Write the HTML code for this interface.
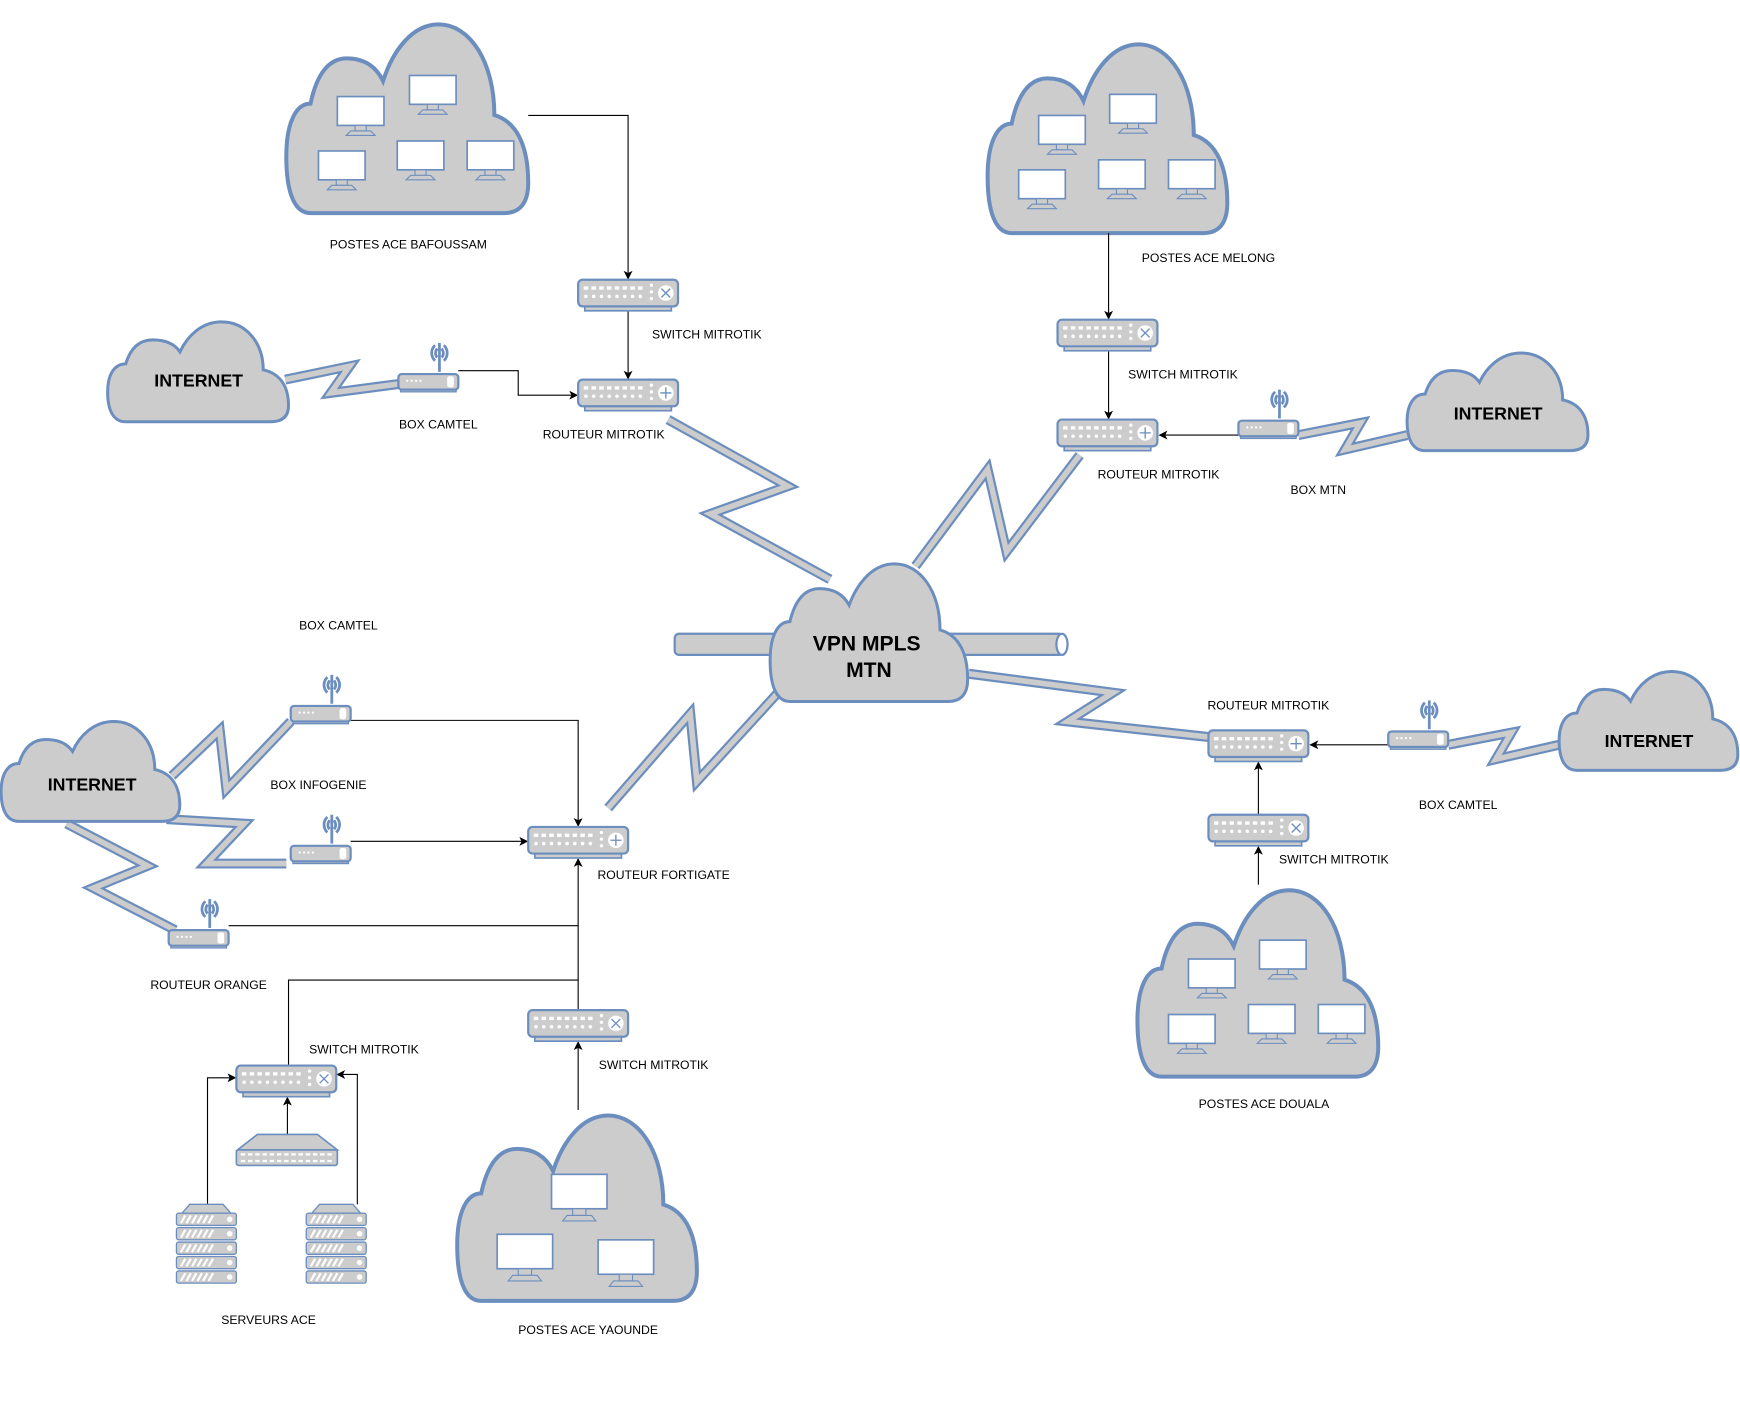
<!DOCTYPE html>
<html><head><meta charset="utf-8">
<style>
html,body{margin:0;padding:0;background:#fff;}
svg{display:block;}
text{font-family:"Liberation Sans",Arial,sans-serif;fill:#000;}
.lbl{font-size:11px;}
.big{font-size:16px;font-weight:bold;}
</style></head>
<body>
<svg width="1740" height="1413" viewBox="0 0 1568 1273" preserveAspectRatio="none" xmlns="http://www.w3.org/2000/svg">
<defs>
  <g id="mon">
    <rect x="0" y="0" width="42" height="26" fill="#fff" stroke="#6c8ebf" stroke-width="1.5"/>
    <rect x="16" y="26" width="10" height="5" fill="#ccc" stroke="#6c8ebf" stroke-width="1"/>
    <path d="M8 35 L12 31 H30 L34 35 Z" fill="#ccc" stroke="#6c8ebf" stroke-width="1"/>
  </g>
  <g id="monb">
    <rect x="0" y="0" width="50" height="31" fill="#fff" stroke="#6c8ebf" stroke-width="1.5"/>
    <rect x="19" y="31" width="12" height="6" fill="#ccc" stroke="#6c8ebf" stroke-width="1"/>
    <path d="M10 42 L14 37 H36 L40 42 Z" fill="#ccc" stroke="#6c8ebf" stroke-width="1"/>
  </g>
  <g id="dev">
    <rect x="6" y="23" width="78" height="5" fill="#ccc" stroke="#6c8ebf" stroke-width="1.5"/>
    <rect x="0" y="0" width="90" height="24" rx="4" fill="#ccc" stroke="#6c8ebf" stroke-width="2"/>
    <g fill="#fff">
      <rect x="5" y="6" width="4" height="3"/><rect x="12" y="6" width="4" height="3"/><rect x="19" y="6" width="4" height="3"/><rect x="26" y="6" width="4" height="3"/><rect x="33" y="6" width="4" height="3"/><rect x="40" y="6" width="4" height="3"/><rect x="47" y="6" width="4" height="3"/><rect x="54" y="6" width="4" height="3"/>
      <circle cx="7" cy="15" r="1.6"/><circle cx="14" cy="15" r="1.6"/><circle cx="21" cy="15" r="1.6"/><circle cx="28" cy="15" r="1.6"/><circle cx="35" cy="15" r="1.6"/><circle cx="42" cy="15" r="1.6"/><circle cx="49" cy="15" r="1.6"/><circle cx="56" cy="15" r="1.6"/>
      <circle cx="66" cy="5" r="1.5"/><circle cx="66" cy="11" r="1.5"/><circle cx="66" cy="17" r="1.5"/>
      <circle cx="79" cy="12" r="7"/>
    </g>
  </g>
  <g id="sw"><use href="#dev"/><path d="M75 8 L83 16 M83 8 L75 16" stroke="#6c8ebf" stroke-width="1.2"/></g>
  <g id="rt"><use href="#dev"/><path d="M79 7 V17 M74 12 H84" stroke="#6c8ebf" stroke-width="1.2"/></g>
  <g id="box">
    <line x1="37" y1="0" x2="37" y2="26" stroke="#6c8ebf" stroke-width="2.5"/>
    <path d="M33 2 C29 6 29 12 33 16 M41 2 C45 6 45 12 41 16 M35 5 C33 8 33 11 35 13 M39 5 C41 8 41 11 39 13" fill="none" stroke="#6c8ebf" stroke-width="2.5"/>
    <rect x="2" y="40" width="50" height="4" fill="#ccc" stroke="#6c8ebf" stroke-width="1.2"/>
    <rect x="0" y="28" width="54" height="14" rx="3" fill="#ccc" stroke="#6c8ebf" stroke-width="2"/>
    <g fill="#fff"><circle cx="8" cy="34" r="1"/><circle cx="12" cy="34" r="1"/><circle cx="16" cy="34" r="1"/><circle cx="20" cy="34" r="1"/><rect x="44" y="30" width="6" height="10" rx="2"/></g>
  </g>
  <g id="srv">
    <path d="M5 8 L12 0 H42 L49 8 Z" fill="#ccc" stroke="#6c8ebf" stroke-width="1.2"/>
    <g fill="#ccc" stroke="#6c8ebf" stroke-width="1.2">
      <rect x="0" y="8" width="54" height="11" rx="2"/><rect x="0" y="21" width="54" height="11" rx="2"/><rect x="0" y="34" width="54" height="11" rx="2"/><rect x="0" y="47" width="54" height="11" rx="2"/><rect x="0" y="60" width="54" height="11" rx="2"/>
    </g>
    <g stroke="#fff" stroke-width="2">
      <path d="M4 17 L8 10 M9 17 L13 10 M14 17 L18 10 M19 17 L23 10 M24 17 L28 10 M29 17 L33 10"/>
      <path d="M4 30 L8 23 M9 30 L13 23 M14 30 L18 23 M19 30 L23 23 M24 30 L28 23 M29 30 L33 23"/>
      <path d="M4 43 L8 36 M9 43 L13 36 M14 43 L18 36 M19 43 L23 36 M24 43 L28 36 M29 43 L33 36"/>
      <path d="M4 56 L8 49 M9 56 L13 49 M14 56 L18 49 M19 56 L23 49 M24 56 L28 49 M29 56 L33 49"/>
      <path d="M4 69 L8 62 M9 69 L13 62 M14 69 L18 62 M19 69 L23 62 M24 69 L28 62 M29 69 L33 62"/>
    </g>
    <g fill="#fff"><circle cx="48" cy="13.5" r="2.5"/><circle cx="48" cy="26.5" r="2.5"/><circle cx="48" cy="39.5" r="2.5"/><circle cx="48" cy="52.5" r="2.5"/><circle cx="48" cy="65.5" r="2.5"/></g>
  </g>
  <marker id="ar" markerWidth="8" markerHeight="8" refX="7" refY="4" orient="auto" markerUnits="userSpaceOnUse">
    <path d="M0 0 L8 4 L0 8 L2 4 Z" fill="#000"/>
  </marker>
</defs>

<!-- bolts -->
<g fill="none" stroke-linejoin="miter" stroke-miterlimit="10">
  <g stroke="#6c8ebf" stroke-width="9">
    <polyline points="257,342 315,330 298,354 359,346"/>
    <polyline points="602,378 710,438 640,463 748,522"/>
    <polyline points="825,510 890,423 907,497 973,410"/>
    <polyline points="1170,392 1226,381 1212,405 1268,392"/>
    <polyline points="873,607 1003,624 962,650 1089,664"/>
    <polyline points="1305,671 1362,660 1348,684 1405,671"/>
    <polyline points="703,622 628,704 622,643 548,728"/>
    <polyline points="155,699 198,658 204,711 262,650"/>
    <polyline points="150,738 220,742 186,778 258,778"/>
    <polyline points="60,742 133,780 84,800 158,838"/>
  </g>
  <g stroke="#cccccc" stroke-width="5">
    <polyline points="257,342 315,330 298,354 359,346"/>
    <polyline points="602,378 710,438 640,463 748,522"/>
    <polyline points="825,510 890,423 907,497 973,410"/>
    <polyline points="1170,392 1226,381 1212,405 1268,392"/>
    <polyline points="873,607 1003,624 962,650 1089,664"/>
    <polyline points="1305,671 1362,660 1348,684 1405,671"/>
    <polyline points="703,622 628,704 622,643 548,728"/>
    <polyline points="155,699 198,658 204,711 262,650"/>
    <polyline points="150,738 220,742 186,778 258,778"/>
    <polyline points="60,742 133,780 84,800 158,838"/>
  </g>
</g>

<!-- pipe -->
<rect x="608" y="571" width="350" height="19" rx="4" fill="#ccc" stroke="#6c8ebf" stroke-width="2"/>
<ellipse cx="957" cy="580.5" rx="5" ry="9.5" fill="#fff" stroke="#6c8ebf" stroke-width="2"/>

<!-- clouds -->
<g fill="#cccccc" stroke="#6c8ebf">
  <path d="M10 100 H90 C97 100 100 94 100 84 C100 66 96 52 86 48 C86 20 76 0 63 0 C52 0 44 14 40 30 C37 22 32 18 25 18 C16 18 12 30 10 42 C4 42 0 52 0 70 C0 88 3 100 10 100 Z" transform="translate(258,22) scale(2.18,1.70)" stroke-width="4" vector-effect="non-scaling-stroke"/>
  <path d="M10 100 H90 C97 100 100 94 100 84 C100 66 96 52 86 48 C86 20 76 0 63 0 C52 0 44 14 40 30 C37 22 32 18 25 18 C16 18 12 30 10 42 C4 42 0 52 0 70 C0 88 3 100 10 100 Z" transform="translate(890,40) scale(2.16,1.70)" stroke-width="4" vector-effect="non-scaling-stroke"/>
  <path d="M10 100 H90 C97 100 100 94 100 84 C100 66 96 52 86 48 C86 20 76 0 63 0 C52 0 44 14 40 30 C37 22 32 18 25 18 C16 18 12 30 10 42 C4 42 0 52 0 70 C0 88 3 100 10 100 Z" transform="translate(1025,802) scale(2.17,1.68)" stroke-width="4" vector-effect="non-scaling-stroke"/>
  <path d="M10 100 H90 C97 100 100 94 100 84 C100 66 96 52 86 48 C86 20 76 0 63 0 C52 0 44 14 40 30 C37 22 32 18 25 18 C16 18 12 30 10 42 C4 42 0 52 0 70 C0 88 3 100 10 100 Z" transform="translate(412,1005) scale(2.16,1.67)" stroke-width="4" vector-effect="non-scaling-stroke"/>
  <path d="M10 100 H90 C97 100 100 94 100 84 C100 66 96 52 86 48 C86 20 76 0 63 0 C52 0 44 14 40 30 C37 22 32 18 25 18 C16 18 12 30 10 42 C4 42 0 52 0 70 C0 88 3 100 10 100 Z" transform="translate(97,290) scale(1.63,0.90)" stroke-width="3" vector-effect="non-scaling-stroke"/>
  <path d="M10 100 H90 C97 100 100 94 100 84 C100 66 96 52 86 48 C86 20 76 0 63 0 C52 0 44 14 40 30 C37 22 32 18 25 18 C16 18 12 30 10 42 C4 42 0 52 0 70 C0 88 3 100 10 100 Z" transform="translate(1268,318) scale(1.63,0.88)" stroke-width="3" vector-effect="non-scaling-stroke"/>
  <path d="M10 100 H90 C97 100 100 94 100 84 C100 66 96 52 86 48 C86 20 76 0 63 0 C52 0 44 14 40 30 C37 22 32 18 25 18 C16 18 12 30 10 42 C4 42 0 52 0 70 C0 88 3 100 10 100 Z" transform="translate(1405,605) scale(1.61,0.89)" stroke-width="3" vector-effect="non-scaling-stroke"/>
  <path d="M10 100 H90 C97 100 100 94 100 84 C100 66 96 52 86 48 C86 20 76 0 63 0 C52 0 44 14 40 30 C37 22 32 18 25 18 C16 18 12 30 10 42 C4 42 0 52 0 70 C0 88 3 100 10 100 Z" transform="translate(1,650) scale(1.61,0.90)" stroke-width="3" vector-effect="non-scaling-stroke"/>
  <path d="M10 100 H90 C97 100 100 94 100 84 C100 66 96 52 86 48 C86 20 76 0 63 0 C52 0 44 14 40 30 C37 22 32 18 25 18 C16 18 12 30 10 42 C4 42 0 52 0 70 C0 88 3 100 10 100 Z" transform="translate(694,508) scale(1.78,1.24)" stroke-width="3" vector-effect="non-scaling-stroke"/>
</g>

<!-- monitors -->
<use href="#mon" x="304" y="87"/><use href="#mon" x="369" y="68"/><use href="#mon" x="287" y="136"/><use href="#mon" x="358" y="127"/><use href="#mon" x="421" y="127"/>
<use href="#mon" x="936" y="104"/><use href="#mon" x="1000" y="85"/><use href="#mon" x="918" y="153"/><use href="#mon" x="990" y="144"/><use href="#mon" x="1053" y="144"/>
<use href="#mon" x="1071" y="864"/><use href="#mon" x="1135" y="847"/><use href="#mon" x="1053" y="914"/><use href="#mon" x="1125" y="905"/><use href="#mon" x="1188" y="905"/>
<use href="#monb" x="497" y="1058"/><use href="#monb" x="448" y="1112"/><use href="#monb" x="539" y="1117"/>

<!-- connectors -->
<g fill="none" stroke="#000" stroke-width="1">
  <polyline points="476,104 566,104 566,251" marker-end="url(#ar)"/>
  <polyline points="566,280 566,341" marker-end="url(#ar)"/>
  <polyline points="413,334 467,334 467,356 520,356" marker-end="url(#ar)"/>
  <polyline points="999,210 999,287" marker-end="url(#ar)"/>
  <polyline points="999,316 999,377" marker-end="url(#ar)"/>
  <polyline points="1116,392 1045,392" marker-end="url(#ar)"/>
  <polyline points="1134,797 1134,763" marker-end="url(#ar)"/>
  <polyline points="1134,734 1134,687" marker-end="url(#ar)"/>
  <polyline points="1251,671 1181,671" marker-end="url(#ar)"/>
  <polyline points="316,649 521,649 521,744" marker-end="url(#ar)"/>
  <polyline points="316,758 475,758" marker-end="url(#ar)"/>
  <polyline points="206,834 521,834"/>
  <polyline points="260,960 260,883 521,883"/>
  <polyline points="521,910 521,774" marker-end="url(#ar)"/>
  <polyline points="521,1000 521,939" marker-end="url(#ar)"/>
  <polyline points="187,1085 187,971 212,971" marker-end="url(#ar)"/>
  <polyline points="322,1085 322,968 304,968" marker-end="url(#ar)"/>
  <polyline points="259,1022 259,989" marker-end="url(#ar)"/>
</g>

<!-- devices -->
<use href="#sw" x="521" y="252"/>
<use href="#rt" x="521" y="342"/>
<use href="#box" x="359" y="309"/>
<use href="#sw" x="953" y="288"/>
<use href="#rt" x="953" y="378"/>
<use href="#box" x="1116" y="351"/>
<use href="#rt" x="1089" y="658"/>
<use href="#sw" x="1089" y="734"/>
<use href="#box" x="1251" y="631"/>
<use href="#box" x="262" y="608"/>
<use href="#box" x="262" y="734"/>
<use href="#box" x="152" y="810"/>
<use href="#rt" x="476" y="745"/>
<use href="#sw" x="476" y="910"/>
<use href="#sw" x="213" y="960"/>
<!-- patch panel -->
<path d="M214 1036 L232 1022 H286 L304 1036 Z" fill="#ccc" stroke="#6c8ebf" stroke-width="1.5"/>
<rect x="213" y="1036" width="91" height="14" rx="2" fill="#ccc" stroke="#6c8ebf" stroke-width="1.5"/>
<path d="M217 1040 H300 M217 1046 H300" stroke="#fff" stroke-width="2" stroke-dasharray="4,2.5"/>
<use href="#srv" x="159" y="1085"/>
<use href="#srv" x="276" y="1085"/>

<!-- labels -->
<g class="lbl" text-anchor="middle">
  <text x="368" y="224">POSTES ACE BAFOUSSAM</text>
  <text x="637" y="305">SWITCH MITROTIK</text>
  <text x="395" y="386">BOX CAMTEL</text>
  <text x="544" y="395">ROUTEUR MITROTIK</text>
  <text x="1089" y="236">POSTES ACE MELONG</text>
  <text x="1066" y="341">SWITCH MITROTIK</text>
  <text x="1044" y="431">ROUTEUR MITROTIK</text>
  <text x="1188" y="445">BOX MTN</text>
  <text x="305" y="567">BOX CAMTEL</text>
  <text x="287" y="711">BOX INFOGENIE</text>
  <text x="598" y="792">ROUTEUR FORTIGATE</text>
  <text x="188" y="891">ROUTEUR ORANGE</text>
  <text x="328" y="949">SWITCH MITROTIK</text>
  <text x="589" y="963">SWITCH MITROTIK</text>
  <text x="242" y="1193">SERVEURS ACE</text>
  <text x="530" y="1202">POSTES ACE YAOUNDE</text>
  <text x="1143" y="639">ROUTEUR MITROTIK</text>
  <text x="1314" y="729">BOX CAMTEL</text>
  <text x="1202" y="778">SWITCH MITROTIK</text>
  <text x="1139" y="998">POSTES ACE DOUALA</text>
</g>
<g class="big" text-anchor="middle">
  <text x="179" y="348">INTERNET</text>
  <text x="1350" y="378">INTERNET</text>
  <text x="1486" y="673">INTERNET</text>
  <text x="83" y="712">INTERNET</text>
</g>
<g text-anchor="middle" style="font-size:19px;font-weight:bold">
  <text x="781" y="586">VPN MPLS</text>
  <text x="783" y="610">MTN</text>
</g>
</svg>
</body></html>
